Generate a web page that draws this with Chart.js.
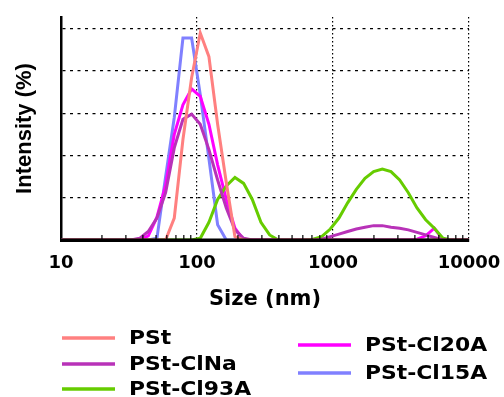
<!DOCTYPE html>
<html lang="en">
<head>
  <meta charset="UTF-8">
  <title>DLS size distribution</title>
  <style>
    html, body { margin: 0; padding: 0; background: #fff; }
    #box { width: 504px; height: 397px; }
  </style>
</head>
<body>
  <div id="box"><canvas id="grafico"></canvas></div>

  <script src="https://cdn.jsdelivr.net/npm/chart.js"></script>
  <script>
    // size bins (nm)
    const sizes = [10.1, 11.7, 13.54, 15.69, 18.17, 21.04, 24.36, 28.21, 32.67, 37.84,
      43.82, 50.75, 58.77, 68.06, 78.82, 91.28, 105.7, 122.4, 141.8, 164.2,
      190.1, 220.2, 255.0, 295.3, 342.0, 396.1, 458.7, 531.2, 615.1, 712.4,
      825.0, 955.4, 1106, 1281, 1484, 1718, 1990, 2305, 2669, 3091,
      3580, 4145, 4801, 5560, 6439, 7456, 8635, 10000];

    const pst = [0, 0, 0, 0, 0, 0, 0, 0, 0, 0,
      0, 0, 0, 2.6, 11.9, 19.2, 24.5, 21.7, 13.7, 6.8,
      0.4, 0, 0, 0, 0, 0, 0, 0, 0, 0,
      0, 0, 0, 0, 0, 0, 0, 0, 0, 0,
      0, 0, 0, 0, 0, 0, 0, 0];
    const pstClNa = [0, 0, 0, 0, 0, 0, 0, 0, 0, 0.2,
      1.0, 2.6, 5.6, 10.9, 14.3, 14.9, 13.7, 10.7, 7.1, 3.8,
      1.2, 0.2, 0, 0, 0, 0, 0, 0, 0, 0,
      0.1, 0.4, 0.7, 1.0, 1.3, 1.5, 1.7, 1.7, 1.5, 1.4,
      1.2, 0.9, 0.6, 0.3, 0, 0, 0, 0];
    const pstCl93A = [0, 0, 0, 0, 0, 0, 0, 0, 0, 0,
      0, 0, 0, 0, 0, 0, 0.2, 2.1, 4.8, 6.4,
      7.4, 6.7, 4.8, 2.1, 0.6, 0, 0, 0, 0, 0.1,
      0.4, 1.3, 2.6, 4.4, 6.0, 7.3, 8.1, 8.4, 8.1, 7.1,
      5.6, 3.8, 2.4, 1.4, 0.2, 0, 0, 0];
    const pstCl20A = [0, 0, 0, 0, 0, 0, 0, 0, 0, 0,
      0.5, 2.7, 6.5, 12.5, 16.0, 17.9, 17.0, 13.7, 8.9, 4.8,
      1.4, 0, 0, 0, 0, 0, 0, 0, 0, 0,
      0, 0, 0, 0, 0, 0, 0, 0, 0, 0,
      0, 0.1, 0.5, 1.4, 0, 0, 0, 0];
    const pstCl15A = [0, 0, 0, 0, 0, 0, 0, 0, 0, 0,
      0, 0.2, 7.5, 14.5, 23.9, 23.9, 17.2, 9.6, 1.8, 0,
      0, 0, 0, 0, 0, 0, 0, 0, 0, 0,
      0, 0, 0, 0, 0, 0, 0, 0, 0, 0,
      0, 0, 0, 0, 0, 0, 0, 0];

    const xTicks = [10, 100, 1000, 10000];
    const yTicks = [0, 5, 10, 15, 20, 25];

    const series = [
      { label: "PSt", data: pst, color: "#FF8080" },
      { label: "PSt-ClNa", data: pstClNa, color: "#B832B8" },
      { label: "PSt-Cl93A", data: pstCl93A, color: "#66CC00" },
      { label: "PSt-Cl20A", data: pstCl20A, color: "#FF00FF" },
      { label: "PSt-Cl15A", data: pstCl15A, color: "#8080FF" }
    ];

    // x axis line on top of the curves, with small ticks between decades
    const axisOnTop = {
      id: "axisOnTop",
      afterDatasetsDraw(chart) {
        const x = chart.scales.x, ctx = chart.ctx, a = chart.chartArea;
        ctx.save();
        ctx.strokeStyle = "#000";
        ctx.lineWidth = 3;
        ctx.beginPath();
        ctx.moveTo(a.left, a.bottom);
        ctx.lineTo(a.right, a.bottom);
        ctx.stroke();
        ctx.lineWidth = 1.2;
        for (let dec = 10; dec < 10000; dec *= 10) {
          for (let d = 2; d < 10; d++) {
            const px = x.getPixelForValue(d * dec);
            ctx.beginPath();
            ctx.moveTo(px, a.bottom - 5);
            ctx.lineTo(px, a.bottom);
            ctx.stroke();
          }
        }
        ctx.restore();
      }
    };

    // two column legend under the axis title
    const legendSpots = [[62, 338], [62, 364], [62, 389], [298, 345], [298, 373]];
    const twoColLegend = {
      id: "twoColLegend",
      afterDraw(chart) {
        const ctx = chart.ctx;
        ctx.save();
        chart.data.datasets.forEach((ds, i) => {
          const [lx, ly] = legendSpots[i];
          ctx.strokeStyle = ds.borderColor;
          ctx.lineWidth = 3.5;
          ctx.beginPath();
          ctx.moveTo(lx, ly);
          ctx.lineTo(lx + 53, ly);
          ctx.stroke();
          ctx.save();
          ctx.translate(lx + 67, ly + 1);
          ctx.scale(1.15, 1);
          ctx.fillStyle = "#000";
          ctx.font = "bold 19px 'DejaVu Sans'";
          ctx.textBaseline = "middle";
          ctx.fillText(ds.label, 0, 0);
          ctx.restore();
        });
        ctx.restore();
      }
    };

    const lienzo = document.getElementById("grafico");
    new Chart(lienzo, {
      type: "line",
      data: {
        datasets: series.map(s => ({
          label: s.label,
          data: sizes.map((v, i) => ({ x: v, y: s.data[i] })),
          borderColor: s.color,
          backgroundColor: s.color,
          borderWidth: 3,
          pointRadius: 0,
          tension: 0,
          fill: false
        }))
      },
      options: {
        responsive: true,
        maintainAspectRatio: false,
        animation: false,
        layout: { padding: { left: 0, right: 35, top: 17, bottom: 85 } },
        plugins: { legend: { display: false }, tooltip: { enabled: false } },
        scales: {
          x: {
            type: "logarithmic",
            min: 10,
            max: 10000,
            afterBuildTicks: (scale) => { scale.ticks = xTicks.map(v => ({ value: v })); },
            afterFit: (scale) => {
              scale.height = 72;
              scale.paddingLeft = 0;
              scale.paddingRight = 0;
            },
            ticks: {
              color: "#000",
              padding: 13,
              maxRotation: 0,
              autoSkip: false,
              font: { family: "DejaVu Sans", size: 18, weight: "bold" },
              callback: (v) => String(v)
            },
            grid: { color: "#000", lineWidth: 1.2, drawTicks: false },
            border: { color: "#000", width: 3, dash: [1.5, 2.5] },
            title: {
              display: true,
              text: "Size (nm)",
              color: "#000",
              padding: { top: 0, bottom: 0 },
              font: { family: "DejaVu Sans", size: 21, weight: "bold" }
            }
          },
          y: {
            min: 0,
            max: 26.4,
            afterBuildTicks: (scale) => { scale.ticks = yTicks.map(v => ({ value: v })); },
            afterFit: (scale) => { scale.width = 61; },
            ticks: { display: false },
            grid: {
              color: (c) => (c.tick && c.tick.value === 0 ? "rgba(0,0,0,0)" : "#000"),
              lineWidth: 1.2,
              drawTicks: false
            },
            border: { color: "#000", width: 2.5, dash: [3, 4.5] },
            title: {
              display: true,
              text: "Intensity (%)",
              color: "#000",
              padding: { top: 12, bottom: 0 },
              font: { family: "Liberation Sans", size: 22, weight: "bold" }
            }
          }
        }
      },
      plugins: [axisOnTop, twoColLegend]
    });
  </script>
</body>
</html>
